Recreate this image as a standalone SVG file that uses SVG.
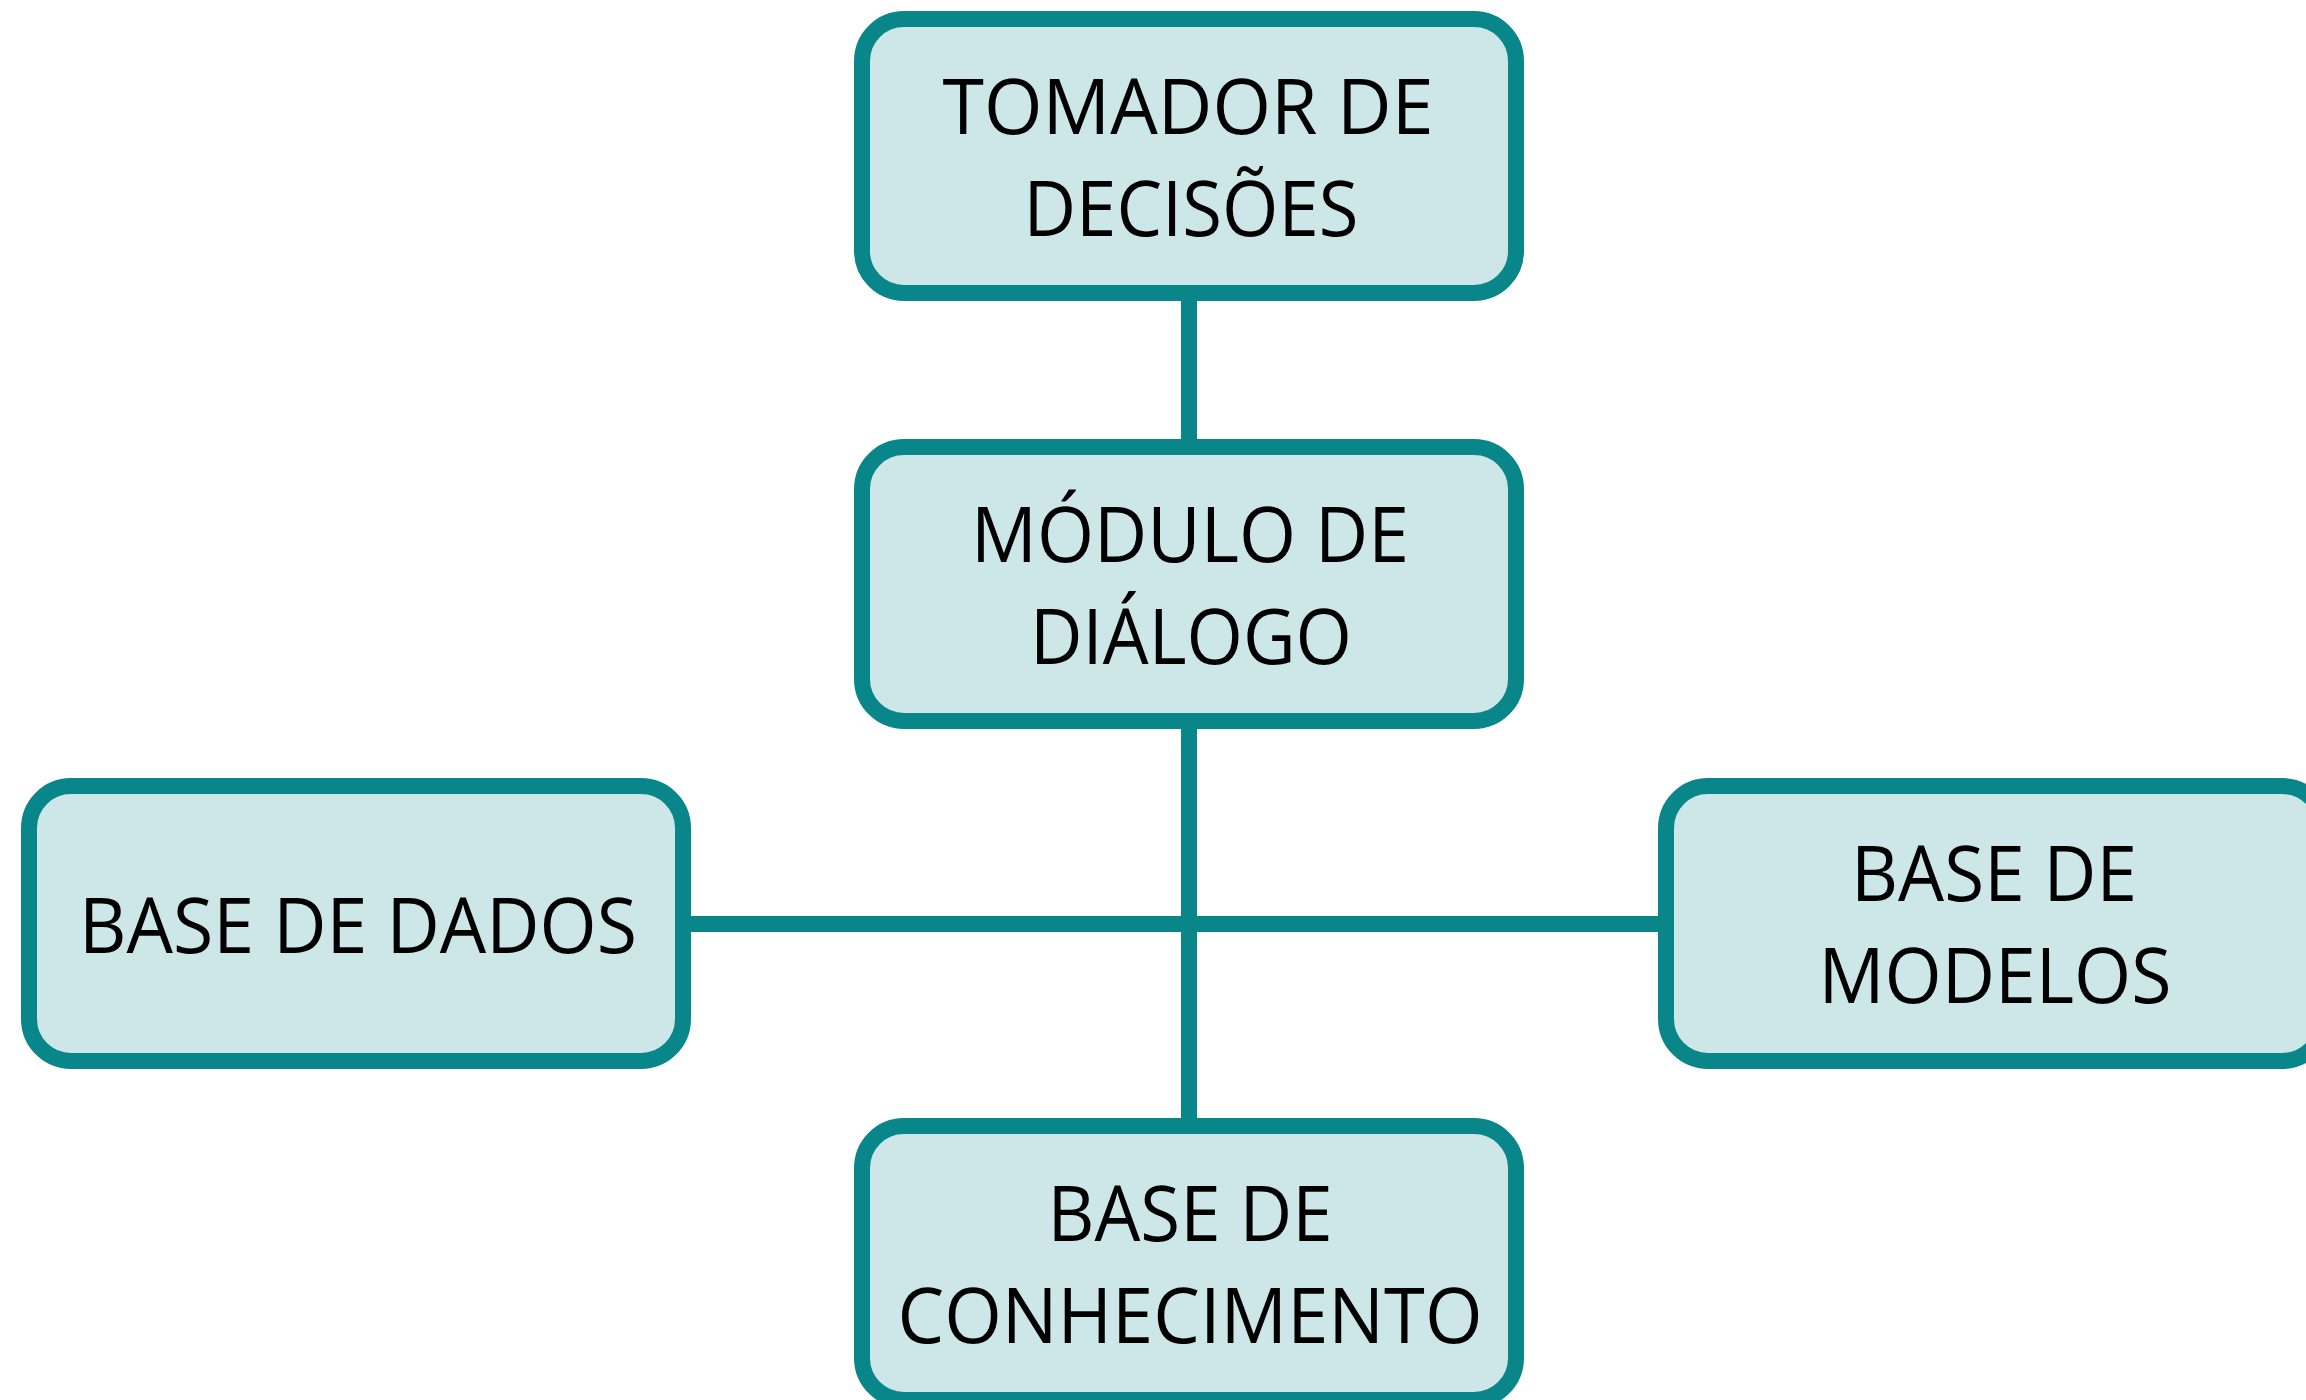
<svg xmlns="http://www.w3.org/2000/svg" width="2306" height="1400" viewBox="0 0 2306 1400">
  <style>
    .box { fill: #CDE6E7; stroke: #08868A; stroke-width: 16; }
    .conn { stroke: #08868A; stroke-width: 16; fill: none; }
    .lbl { font-family: "Open Sans", "Noto Sans", "Liberation Sans", sans-serif; font-size: 77px; fill: #000000; text-anchor: middle; }
  </style>
  <rect x="0" y="0" width="2306" height="1400" fill="#FFFFFF"/>
  <g id="connectors">
    <line class="conn" x1="1189" y1="293" x2="1189" y2="1126"/>
    <line class="conn" x1="683" y1="924" x2="1666" y2="924"/>
  </g>
  <g id="tomador">
    <rect class="box" x="862" y="19" width="654" height="274" rx="42" ry="42"/>
    <text class="lbl" x="1188" y="134" textLength="491" lengthAdjust="spacingAndGlyphs">TOMADOR DE</text>
    <text class="lbl" x="1191" y="236" textLength="335" lengthAdjust="spacingAndGlyphs">DECISÕES</text>
  </g>
  <g id="modulo">
    <rect class="box" x="862" y="447" width="654" height="274" rx="42" ry="42"/>
    <text class="lbl" x="1190" y="562" textLength="438" lengthAdjust="spacingAndGlyphs">MÓDULO DE</text>
    <text class="lbl" x="1191" y="664" textLength="322" lengthAdjust="spacingAndGlyphs">DIÁLOGO</text>
  </g>
  <g id="base-dados">
    <rect class="box" x="29" y="786" width="654" height="275" rx="42" ry="42"/>
    <text class="lbl" x="358" y="953" textLength="558" lengthAdjust="spacingAndGlyphs">BASE DE DADOS</text>
  </g>
  <g id="base-modelos">
    <rect class="box" x="1666" y="786" width="658" height="275" rx="42" ry="42"/>
    <text class="lbl" x="1994" y="901" textLength="286" lengthAdjust="spacingAndGlyphs">BASE DE</text>
    <text class="lbl" x="1995" y="1003" textLength="353" lengthAdjust="spacingAndGlyphs">MODELOS</text>
  </g>
  <g id="base-conhecimento">
    <rect class="box" x="862" y="1126" width="654" height="274" rx="42" ry="42"/>
    <text class="lbl" x="1190" y="1241" textLength="285" lengthAdjust="spacingAndGlyphs">BASE DE</text>
    <text class="lbl" x="1190" y="1343" textLength="585" lengthAdjust="spacingAndGlyphs">CONHECIMENTO</text>
  </g>
</svg>
